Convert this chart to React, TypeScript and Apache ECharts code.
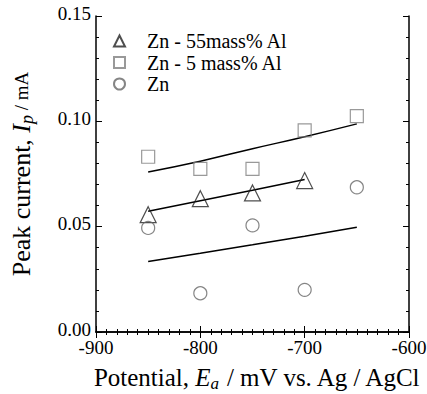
import React, { useEffect, useRef } from "react";
import * as echarts from "echarts";

const potentials = [-850, -800, -750, -700, -650];
const zn55AlPotentials = [-850, -800, -750, -700];
const zn55Al = [0.0557, 0.0633, 0.066, 0.0719];
const zn5Al = [0.0832, 0.0774, 0.0774, 0.0957, 0.1025];
const zn = [0.0494, 0.0184, 0.0506, 0.02, 0.0687];
const fit55Al = [0.0573, 0.0623, 0.0673, 0.0724];
const fit5Al = [0.076, 0.0811, 0.087, 0.0927, 0.0988];
const fitZn = [0.0335, 0.0374, 0.0414, 0.0455, 0.0497];
const seriesNames = ["Zn - 55mass% Al", "Zn - 5 mass% Al", "Zn"];

const FONT = "Liberation Serif";

function pairs(xs: number[], ys: number[]) {
  return xs.map((x, i) => [x, ys[i]]);
}

function makeRich(size: number, subSize: number, smallSize: number) {
  return {
    i: { fontFamily: FONT, fontSize: size, fontStyle: "italic", lineHeight: 30 },
    sub: { fontFamily: FONT, fontSize: subSize, fontStyle: "italic", verticalAlign: "bottom", lineHeight: 14, padding: [13, 0, 0, 0] },
    s: { fontFamily: FONT, fontSize: smallSize, lineHeight: 30 },
    n: { fontFamily: FONT, fontSize: size, lineHeight: 30 },
  };
}

export default function App() {
  const ref = useRef<HTMLDivElement>(null);
  useEffect(() => {
    if (!ref.current) return;
    const chart = echarts.init(ref.current, undefined, { renderer: "svg" });
    const axisLine = { show: true, lineStyle: { color: "#000", width: 1.5 } };
    const xCommon = {
      type: "value" as const,
      min: -900,
      max: -600,
      interval: 100,
      axisLine,
      axisTick: { show: true, inside: true, length: 6, lineStyle: { color: "#000", width: 1 } },
      minorTick: { show: true, splitNumber: 10, length: 3, lineStyle: { color: "#000", width: 1 } },
      splitLine: { show: false },
    };
    const yCommon = {
      type: "value" as const,
      min: 0,
      max: 0.15,
      interval: 0.05,
      axisLine,
      axisTick: { show: true, inside: true, length: 6, lineStyle: { color: "#000", width: 1 } },
      minorTick: { show: true, splitNumber: 5, length: 3, lineStyle: { color: "#000", width: 1 } },
      splitLine: { show: false },
    };
    const tickRich = { v: { fontFamily: FONT, fontSize: 19, lineHeight: 20, color: "#000" } };
    chart.setOption({
      animation: false,
      backgroundColor: "#fff",
      textStyle: { fontFamily: FONT },
      grid: { left: 96, right: 18, top: 16, bottom: 62, outerBoundsMode: "none", containLabel: false },
      legend: {
        orient: "vertical",
        left: 108,
        top: 26,
        itemGap: 1.5,
        itemWidth: 11,
        itemHeight: 11,
        data: seriesNames,
        formatter: (name: string) => `{t|${name}}`,
        textStyle: {
          fontFamily: FONT,
          fontSize: 20,
          lineHeight: 20,
          color: "#000",
          padding: [0, 0, 0, 17],
          rich: { t: { fontFamily: FONT, fontSize: 20, lineHeight: 20, color: "#000" } },
        },
      },
      xAxis: [
        {
          ...xCommon,
          position: "bottom",
          axisLabel: {
            fontFamily: FONT,
            fontSize: 19,
            lineHeight: 20,
            color: "#000",
            margin: 5,
            formatter: (v: number) => `{v|${v}}`,
            rich: tickRich,
          },
          name: "{n|Potential, }{i|E}{sub|a}{n| / mV vs. Ag / AgCl}",
          nameLocation: "middle",
          nameGap: 30,
          nameTextStyle: {
            fontFamily: FONT,
            fontSize: 25,
            color: "#000",
            lineHeight: 30,
            padding: [0, 0, 0, 10],
            rich: makeRich(25, 17, 25),
          },
        },
        { ...xCommon, position: "top", axisLabel: { show: false } },
      ],
      yAxis: [
        {
          ...yCommon,
          position: "left",
          axisLabel: {
            fontFamily: FONT,
            fontSize: 19,
            lineHeight: 20,
            color: "#000",
            margin: 5,
            padding: [0, 0, 6, 0],
            formatter: (v: number) => `{v|${v.toFixed(2)}}`,
            rich: tickRich,
          },
          name: "{n|Peak current, }{i|I}{sub|p}{s| / mA}",
          nameLocation: "middle",
          nameGap: 60,
          nameRotate: 90,
          nameTextStyle: { fontFamily: FONT, fontSize: 26, color: "#000", lineHeight: 30, rich: makeRich(26, 18, 19) },
        },
        { ...yCommon, position: "right", axisLabel: { show: false } },
      ],
      series: [
        {
          name: seriesNames[0],
          type: "scatter",
          symbol: "triangle",
          symbolSize: 16,
          data: pairs(zn55AlPotentials, zn55Al),
          itemStyle: { color: "rgba(0,0,0,0)", borderColor: "#222", borderWidth: 1.2 },
          z: 3,
        },
        {
          name: seriesNames[1],
          type: "scatter",
          symbol: "rect",
          symbolSize: 13,
          data: pairs(potentials, zn5Al),
          itemStyle: { color: "rgba(0,0,0,0)", borderColor: "#808080", borderWidth: 1.2 },
          z: 3,
        },
        {
          name: seriesNames[2],
          type: "scatter",
          symbol: "circle",
          symbolSize: 13,
          data: pairs(potentials, zn),
          itemStyle: { color: "rgba(0,0,0,0)", borderColor: "#666", borderWidth: 1.2 },
          z: 3,
        },
        {
          type: "line",
          data: pairs(zn55AlPotentials, fit55Al),
          showSymbol: false,
          lineStyle: { color: "#000", width: 1.5 },
          z: 2,
        },
        {
          type: "line",
          data: pairs(potentials, fit5Al),
          showSymbol: false,
          smooth: true,
          lineStyle: { color: "#000", width: 1.5 },
          z: 2,
        },
        {
          type: "line",
          data: pairs(potentials, fitZn),
          showSymbol: false,
          smooth: true,
          lineStyle: { color: "#000", width: 1.5 },
          z: 2,
        },
      ],
    });
    return () => chart.dispose();
  }, []);
  return <div ref={ref} style={{ width: 427, height: 394, position: "absolute", left: 0, top: 0 }} />;
}
